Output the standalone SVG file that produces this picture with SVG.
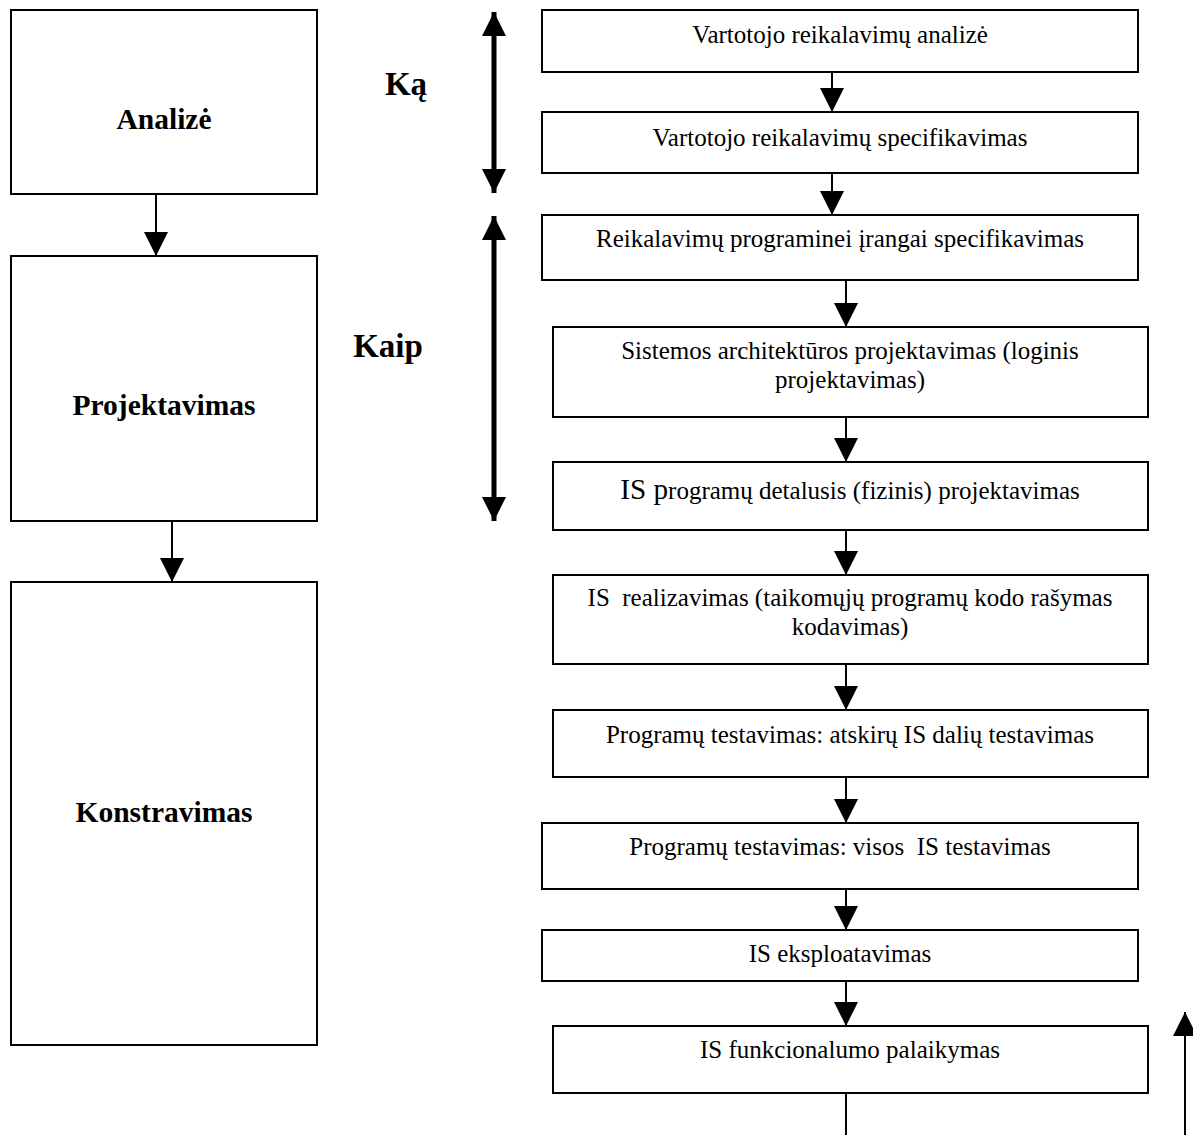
<svg xmlns="http://www.w3.org/2000/svg" width="1193" height="1135" viewBox="0 0 1193 1135">
<defs>
<style>
.box{fill:#fff;stroke:#000;stroke-width:2}
.t{font-family:"Liberation Serif","Times New Roman",serif;font-size:25px;fill:#000;text-anchor:middle}
.b{font-family:"Liberation Serif","Times New Roman",serif;font-weight:bold;fill:#000;text-anchor:middle}
.c{fill:none;stroke:#000;stroke-width:2}
.k{fill:none;stroke:#000;stroke-width:5}
</style>
<marker id="ah" markerUnits="userSpaceOnUse" markerWidth="24" markerHeight="24" refX="24" refY="12" orient="auto-start-reverse" viewBox="0 0 24 24">
<path d="M0,0 L24,12 L0,24 Z" fill="#000"/>
</marker>
</defs>
<rect width="1193" height="1135" fill="#fff"/>
<g id="connectors">
<line class="c" x1="156" y1="194" x2="156" y2="256" marker-end="url(#ah)"/>
<line class="c" x1="172" y1="521" x2="172" y2="582" marker-end="url(#ah)"/>
<line class="k" x1="494" y1="12" x2="494" y2="193" marker-start="url(#ah)" marker-end="url(#ah)"/>
<line class="k" x1="494" y1="216" x2="494" y2="521" marker-start="url(#ah)" marker-end="url(#ah)"/>
<line class="c" x1="832" y1="72" x2="832" y2="112" marker-end="url(#ah)"/>
<line class="c" x1="832" y1="173" x2="832" y2="215" marker-end="url(#ah)"/>
<line class="c" x1="846" y1="280" x2="846" y2="327" marker-end="url(#ah)"/>
<line class="c" x1="846" y1="417" x2="846" y2="462" marker-end="url(#ah)"/>
<line class="c" x1="846" y1="530" x2="846" y2="575" marker-end="url(#ah)"/>
<line class="c" x1="846" y1="664" x2="846" y2="710" marker-end="url(#ah)"/>
<line class="c" x1="846" y1="777" x2="846" y2="823" marker-end="url(#ah)"/>
<line class="c" x1="846" y1="889" x2="846" y2="930" marker-end="url(#ah)"/>
<line class="c" x1="846" y1="981" x2="846" y2="1026" marker-end="url(#ah)"/>
<line class="c" x1="846" y1="1093" x2="846" y2="1135"/>
<line class="c" x1="1185" y1="1135" x2="1185" y2="1012" marker-end="url(#ah)"/>
</g>
<g id="analize"><rect class="box" x="11" y="10" width="306" height="184"/><text class="b" x="164" y="129" font-size="29.5">Analizė</text></g>
<g id="projektavimas"><rect class="box" x="11" y="256" width="306" height="265"/><text class="b" x="164" y="415" font-size="29.5">Projektavimas</text></g>
<g id="konstravimas"><rect class="box" x="11" y="582" width="306" height="463"/><text class="b" x="164" y="822" font-size="29.5">Konstravimas</text></g>
<g id="ka"><text class="b" x="406" y="95" font-size="33">Ką</text></g>
<g id="kaip"><text class="b" x="388" y="357" font-size="33">Kaip</text></g>
<g id="n1"><rect class="box" x="542" y="10" width="596" height="62"/><text class="t" x="840" y="43">Vartotojo reikalavimų analizė</text></g>
<g id="n2"><rect class="box" x="542" y="112" width="596" height="61"/><text class="t" x="840" y="146">Vartotojo reikalavimų specifikavimas</text></g>
<g id="n3"><rect class="box" x="542" y="215" width="596" height="65"/><text class="t" x="840" y="247">Reikalavimų programinei įrangai specifikavimas</text></g>
<g id="n4"><rect class="box" x="553" y="327" width="595" height="90"/><text class="t" x="850" y="359">Sistemos architektūros projektavimas (loginis</text><text class="t" x="850" y="388">projektavimas)</text></g>
<g id="n5"><rect class="box" x="553" y="462" width="595" height="68"/><text class="t" x="850" y="499"><tspan font-size="29.2">IS p</tspan>rogramų detalusis (fizinis) projektavimas</text></g>
<g id="n6"><rect class="box" x="553" y="575" width="595" height="89"/><text class="t" x="850" y="606" xml:space="preserve">IS  realizavimas (taikomųjų programų kodo rašymas</text><text class="t" x="850" y="635">kodavimas)</text></g>
<g id="n7"><rect class="box" x="553" y="710" width="595" height="67"/><text class="t" x="850" y="743">Programų testavimas: atskirų IS dalių testavimas</text></g>
<g id="n8"><rect class="box" x="542" y="823" width="596" height="66"/><text class="t" x="840" y="855" xml:space="preserve">Programų testavimas: visos  IS testavimas</text></g>
<g id="n9"><rect class="box" x="542" y="930" width="596" height="51"/><text class="t" x="840" y="962">IS eksploatavimas</text></g>
<g id="n10"><rect class="box" x="553" y="1026" width="595" height="67"/><text class="t" x="850" y="1058">IS funkcionalumo palaikymas</text></g>
</svg>
